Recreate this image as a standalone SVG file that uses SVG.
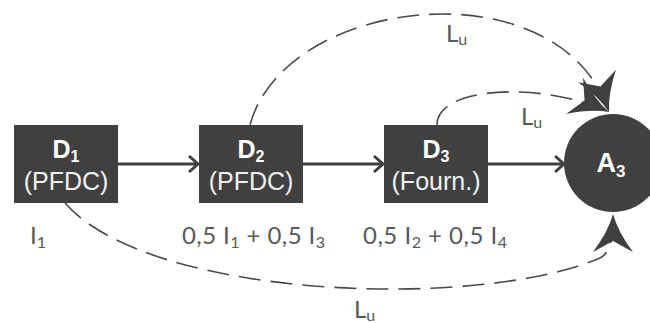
<svg xmlns="http://www.w3.org/2000/svg" width="650" height="323" viewBox="0 0 650 323">
  <defs>
    <marker id="chev" markerUnits="userSpaceOnUse" markerWidth="20" markerHeight="20" orient="auto" overflow="visible">
      <path d="M-9,-8 L0,0 L-9,8" fill="none" stroke="#404040" stroke-width="3" stroke-linejoin="miter"/>
    </marker>
    <marker id="stealth" markerUnits="userSpaceOnUse" markerWidth="40" markerHeight="40" orient="auto" overflow="visible">
      <path d="M0,0 Q-18,-5 -38,-20 L-27,0 L-38,20 Q-18,5 0,0 Z" fill="#404040"/>
    </marker>
  </defs>
  <style>
    .box { fill: #404040; }
    .solid { fill: none; stroke: #404040; stroke-width: 3; marker-end: url(#chev); }
    .dash { fill: none; stroke: #4a4a4a; stroke-width: 1.6; stroke-dasharray: 22 10; marker-end: url(#stealth); }
    .nt { font-family: "Liberation Sans", Arial, sans-serif; font-weight: bold; fill: #ffffff; text-anchor: middle; }
    .ns { font-family: "Liberation Sans", Arial, sans-serif; fill: #f0f0f0; text-anchor: middle; font-size: 25px; }
    .lbl { font-family: Lato, "Liberation Sans", sans-serif; fill: #595959; font-size: 24px; }
  </style>

  <g id="connectors">
    <line class="solid" x1="118" y1="164" x2="198" y2="164"/>
    <line class="solid" x1="303" y1="164" x2="383" y2="164"/>
    <line class="solid" x1="488" y1="164" x2="564" y2="164"/>
    <path class="dash" d="M250,125 C285,-5 560,-35 609,112"/>
    <path class="dash" d="M437,125 C437,85 545,82 609,112"/>
    <path class="dash" d="M65,203 C150,300 480,310 600,258 C610,253 613,240 613,214"/>
  </g>

  <g id="D1">
    <rect class="box" x="14" y="125" width="104" height="78"/>
    <text class="nt" x="66" y="158" font-size="25">D<tspan font-size="16" dy="4">1</tspan></text>
    <text class="ns" x="66" y="190">(PFDC)</text>
  </g>
  <g id="D2">
    <rect class="box" x="199" y="125" width="104" height="78"/>
    <text class="nt" x="251" y="158" font-size="25">D<tspan font-size="16" dy="4">2</tspan></text>
    <text class="ns" x="251" y="190">(PFDC)</text>
  </g>
  <g id="D3">
    <rect class="box" x="384" y="125" width="104" height="78"/>
    <text class="nt" x="436" y="158" font-size="25">D<tspan font-size="16" dy="4">3</tspan></text>
    <text class="ns" x="436" y="190">(Fourn.)</text>
  </g>
  <g id="A3">
    <circle class="box" cx="613" cy="163" r="49"/>
    <text class="nt" x="611" y="172" font-size="27">A<tspan font-size="17" dy="5">3</tspan></text>
  </g>

  <g id="labels">
    <text class="lbl" x="30" y="244">I<tspan font-size="16" dy="4">1</tspan></text>
    <text class="lbl" x="182" y="244" textLength="143" lengthAdjust="spacing">0,5 I<tspan font-size="16" dy="4">1</tspan><tspan dy="-4"> + 0,5 I</tspan><tspan font-size="16" dy="4">3</tspan></text>
    <text class="lbl" x="363" y="244" textLength="144" lengthAdjust="spacing">0,5 I<tspan font-size="16" dy="4">2</tspan><tspan dy="-4"> + 0,5 I</tspan><tspan font-size="16" dy="4">4</tspan></text>
    <text class="lbl" x="446" y="42">L<tspan font-size="16" dy="3">u</tspan></text>
    <text class="lbl" x="521" y="125">L<tspan font-size="16" dy="3">u</tspan></text>
    <text class="lbl" x="354" y="318">L<tspan font-size="16" dy="3">u</tspan></text>
  </g>
</svg>
